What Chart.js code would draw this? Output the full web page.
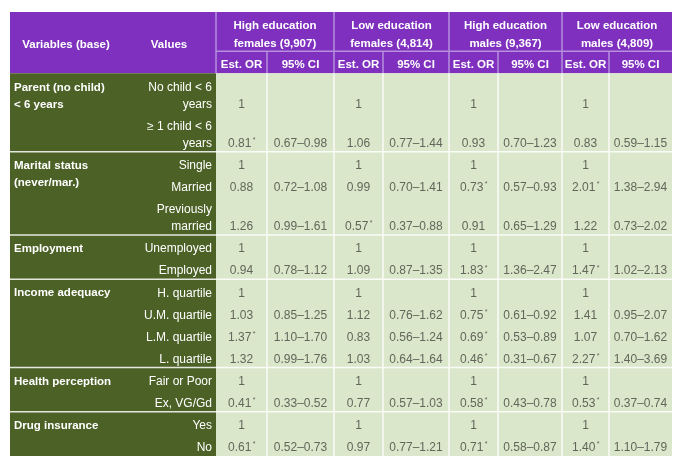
<!DOCTYPE html>
<html><head><meta charset="utf-8">
<script src="https://cdn.jsdelivr.net/npm/chart.js@4.4.1/dist/chart.umd.min.js"></script>
<style>html,body{margin:0;padding:0;background:#fff;}#wrap{width:685px;height:464px;}</style>
</head><body><div id="wrap"><canvas id="c" width="685" height="464"></canvas></div>
<script>
// ---------- data ----------
const headerLeft = ["Variables (base)", "Values"];
const seriesLabels = ["High education\nfemales (9,907)", "Low education\nfemales (4,814)", "High education\nmales (9,367)", "Low education\nmales (4,809)"];
const subHeaders = ["Est. OR", "95% CI"];
const groupLabels = ["Parent (no child)\n< 6 years", "Marital status\n(never/mar.)", "Employment", "Income adequacy", "Health perception", "Drug insurance"];
const valueLabels = [
  ["No child < 6\nyears", "\u2265 1 child < 6\nyears"],
  ["Single", "Married", "Previously\nmarried"],
  ["Unemployed", "Employed"],
  ["H. quartile", "U.M. quartile", "L.M. quartile", "L. quartile"],
  ["Fair or Poor", "Ex, VG/Gd"],
  ["Yes", "No"]
];
// rows: 0 ref,1, 2 ref,3,4, 5 ref,6, 7 ref,8,9,10, 11 ref,12, 13 ref,14
const orHighF = [1, 0.81, 1, 0.88, 1.26, 1, 0.94, 1, 1.03, 1.37, 1.32, 1, 0.41, 1, 0.61];
const ciLoHighF = [null, 0.67, null, 0.72, 0.99, null, 0.78, null, 0.85, 1.10, 0.99, null, 0.33, null, 0.52];
const ciHiHighF = [null, 0.98, null, 1.08, 1.61, null, 1.12, null, 1.25, 1.70, 1.76, null, 0.52, null, 0.73];
const sigHighF = [0, 1, 0, 0, 0, 0, 0, 0, 0, 1, 0, 0, 1, 0, 1];

const orLowF = [1, 1.06, 1, 0.99, 0.57, 1, 1.09, 1, 1.12, 0.83, 1.03, 1, 0.77, 1, 0.97];
const ciLoLowF = [null, 0.77, null, 0.70, 0.37, null, 0.87, null, 0.76, 0.56, 0.64, null, 0.57, null, 0.77];
const ciHiLowF = [null, 1.44, null, 1.41, 0.88, null, 1.35, null, 1.62, 1.24, 1.64, null, 1.03, null, 1.21];
const sigLowF = [0, 0, 0, 0, 1, 0, 0, 0, 0, 0, 0, 0, 0, 0, 0];

const orHighM = [1, 0.93, 1, 0.73, 0.91, 1, 1.83, 1, 0.75, 0.69, 0.46, 1, 0.58, 1, 0.71];
const ciLoHighM = [null, 0.70, null, 0.57, 0.65, null, 1.36, null, 0.61, 0.53, 0.31, null, 0.43, null, 0.58];
const ciHiHighM = [null, 1.23, null, 0.93, 1.29, null, 2.47, null, 0.92, 0.89, 0.67, null, 0.78, null, 0.87];
const sigHighM = [0, 0, 0, 1, 0, 0, 1, 0, 1, 1, 1, 0, 1, 0, 1];

const orLowM = [1, 0.83, 1, 2.01, 1.22, 1, 1.47, 1, 1.41, 1.07, 2.27, 1, 0.53, 1, 1.40];
const ciLoLowM = [null, 0.59, null, 1.38, 0.73, null, 1.02, null, 0.95, 0.70, 1.40, null, 0.37, null, 1.10];
const ciHiLowM = [null, 1.15, null, 2.94, 2.02, null, 2.13, null, 2.07, 1.62, 3.69, null, 0.74, null, 1.79];
const sigLowM = [0, 0, 0, 1, 0, 0, 1, 0, 0, 0, 1, 0, 1, 0, 1];

const series = [
  {or: orHighF, lo: ciLoHighF, hi: ciHiHighF, sig: sigHighF},
  {or: orLowF, lo: ciLoLowF, hi: ciHiLowF, sig: sigLowF},
  {or: orHighM, lo: ciLoHighM, hi: ciHiHighM, sig: sigHighM},
  {or: orLowM, lo: ciLoLowM, hi: ciHiLowM, sig: sigLowM}
];

// ---------- layout (units) ----------
const colWidths = [112, 94, 51, 67, 49, 66, 49, 64, 47, 63];
const headH = [39, 22];
const rowSingle = 22, lineGap = 17, bottomPad = 8;

const colEdges = [0];
colWidths.forEach(w => colEdges.push(colEdges[colEdges.length - 1] + w));
const rows = [];
let yCur = headH[0] + headH[1];
const groupSpans = [];
valueLabels.forEach((vals, g) => {
  const start = yCur;
  vals.forEach(v => {
    const n = v.split("\n").length;
    const h = rowSingle + lineGap * (n - 1);
    rows.push({label: v, top: yCur, bottom: yCur + h, n});
    yCur += h;
  });
  groupSpans.push({top: start, bottom: yCur, firstRow: rows.length - vals.length});
});
const totalW = colEdges[colEdges.length - 1];
const totalH = yCur;

const C = {
  purple: "#7f30bf", purpleLine: "#b68fdd", dark: "#4c6126", light: "#dbe7cb",
  bodyLine: "rgba(255,255,255,0.85)", text: "#62665a", white: "#ffffff"
};
const FONT = "'Liberation Sans', Arial, sans-serif";

const tablePlugin = {
  id: "tablePlugin",
  afterDraw(chart) {
    const ctx = chart.ctx, sx = chart.scales.x, sy = chart.scales.y;
    const X = v => sx.getPixelForValue(v), Y = v => sy.getPixelForValue(v);
    const E = i => X(colEdges[i]);
    const hTop = 0, hMid = headH[0], hBot = headH[0] + headH[1];
    ctx.save();
    // backgrounds
    ctx.fillStyle = C.purple;
    ctx.fillRect(E(0), Y(hTop), E(10) - E(0), Y(hBot) - Y(hTop));
    ctx.fillStyle = C.dark;
    ctx.fillRect(E(0), Y(hBot), E(2) - E(0), Y(totalH) - Y(hBot));
    ctx.fillStyle = C.light;
    ctx.fillRect(E(2), Y(hBot), E(10) - E(2), Y(totalH) - Y(hBot));
    // header lines
    ctx.strokeStyle = C.purpleLine; ctx.lineWidth = 1.5;
    ctx.beginPath();
    [2, 4, 6, 8].forEach(i => { ctx.moveTo(E(i), Y(hTop)); ctx.lineTo(E(i), Y(hBot)); });
    [3, 5, 7, 9].forEach(i => { ctx.moveTo(E(i), Y(hMid)); ctx.lineTo(E(i), Y(hBot)); });
    ctx.moveTo(E(2), Y(hMid)); ctx.lineTo(E(10), Y(hMid));
    ctx.stroke();
    // body lines
    ctx.strokeStyle = C.bodyLine; ctx.lineWidth = 1.5;
    ctx.beginPath();
    for (let i = 3; i <= 9; i++) { ctx.moveTo(E(i), Y(hBot)); ctx.lineTo(E(i), Y(totalH)); }
    groupSpans.slice(0, -1).forEach(g => { ctx.moveTo(E(0), Y(g.bottom)); ctx.lineTo(E(10), Y(g.bottom)); });
    ctx.stroke();

    ctx.textBaseline = "middle";
    const txt = (s, x, y, align) => { ctx.textAlign = align; ctx.fillText(s, x, y); };
    // header text
    ctx.fillStyle = C.white;
    ctx.font = "bold 11.5px " + FONT;
    const hc = (Y(hTop) + Y(hBot)) / 2 + 2;
    txt(headerLeft[0], (E(0) + E(1)) / 2, hc, "center");
    txt(headerLeft[1], (E(1) + E(2)) / 2, hc, "center");
    seriesLabels.forEach((s, k) => {
      const cx = (E(2 + 2 * k) + E(4 + 2 * k)) / 2;
      const cy = (Y(hTop) + Y(hMid)) / 2 + 3.5;
      const ls = s.split("\n");
      ls.forEach((l, j) => txt(l, cx, cy + (j - (ls.length - 1) / 2) * 18, "center"));
      subHeaders.forEach((sh, m) => {
        const c2 = (E(2 + 2 * k + m) + E(3 + 2 * k + m)) / 2;
        txt(sh, c2, (Y(hMid) + Y(hBot)) / 2 + 2.5, "center");
      });
    });
    // group labels
    ctx.font = "bold 11.5px " + FONT;
    groupLabels.forEach((g, gi) => {
      const r0 = rows[groupSpans[gi].firstRow];
      const firstLineY = r0.bottom - bottomPad - (r0.n - 1) * lineGap;
      g.split("\n").forEach((l, j) => txt(l, E(0) + 4, Y(firstLineY + j * lineGap), "left"));
    });
    // value labels
    ctx.font = "12px " + FONT;
    rows.forEach(r => {
      const ls = r.label.split("\n");
      ls.forEach((l, j) => txt(l, E(2) - 4, Y(r.bottom - bottomPad - (ls.length - 1 - j) * lineGap), "right"));
    });
    // data cells
    ctx.fillStyle = C.text;
    series.forEach((s, k) => {
      rows.forEach((r, i) => {
        const y = Y(r.bottom - bottomPad);
        const cOr = (E(2 + 2 * k) + E(3 + 2 * k)) / 2;
        const cCi = (E(3 + 2 * k) + E(4 + 2 * k)) / 2;
        const ref = s.lo[i] === null;
        const orStr = ref ? String(s.or[i]) : s.or[i].toFixed(2);
        ctx.font = "12px " + FONT;
        if (s.sig[i]) {
          const w1 = ctx.measureText(orStr).width;
          ctx.font = "7px " + FONT;
          const w2 = ctx.measureText("*").width;
          const x0 = cOr - (w1 + w2 + 1) / 2;
          ctx.font = "12px " + FONT;
          txt(orStr, x0, y, "left");
          ctx.font = "7px " + FONT;
          txt("*", x0 + w1 + 1.5, y - 3.5, "left");
          ctx.font = "12px " + FONT;
        } else {
          txt(orStr, cOr, y, "center");
        }
        if (!ref) txt(s.lo[i].toFixed(2) + "\u2013" + s.hi[i].toFixed(2), cCi, y, "center");
      });
    });
    ctx.restore();
  }
};

new Chart(document.getElementById("c"), {
  type: "scatter",
  data: {datasets: [{data: []}]},
  options: {
    responsive: false, animation: false, devicePixelRatio: 1,
    layout: {padding: {left: 10, top: 12, right: 13, bottom: 8}},
    plugins: {legend: {display: false}, tooltip: {enabled: false}},
    scales: {
      x: {type: "linear", min: 0, max: totalW, display: false},
      y: {type: "linear", min: 0, max: totalH, reverse: true, display: false}
    }
  },
  plugins: [tablePlugin]
});
</script>
</body></html>
